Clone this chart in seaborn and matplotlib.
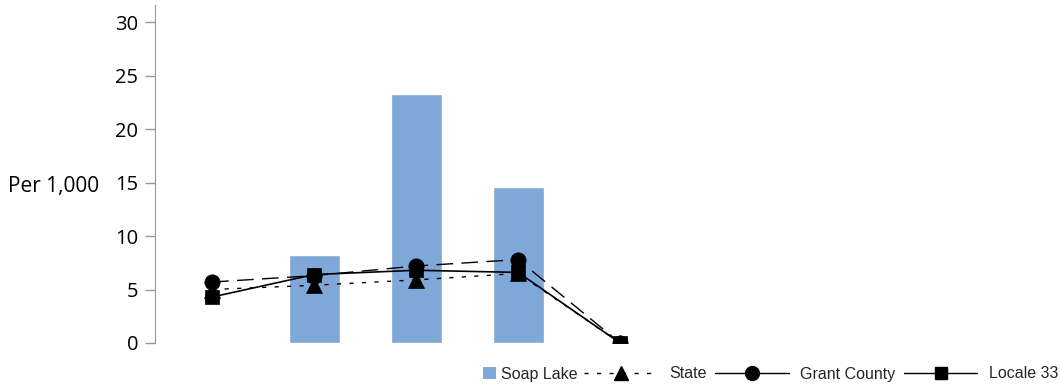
import matplotlib
matplotlib.use("Agg")
import matplotlib.pyplot as plt
import seaborn as sns
import numpy as np
import pandas as pd
from matplotlib.lines import Line2D
from matplotlib.patches import Patch

categories = ["1", "2", "3", "4", "5"]
soap_lake = [np.nan, 8.2, 23.3, 14.6, np.nan]
state = [5.0, 5.4, 5.9, 6.5, 0.0]
grant_county = [5.7, 6.3, 7.2, 7.8, 0.0]
locale_33 = [4.3, 6.4, 6.8, 6.6, 0.0]

BAR = "#7FA7D7"

sns.set_style("white")
plt.rcParams['font.family'] = ['Open Sans', 'DejaVu Sans']

fig = plt.figure(figsize=(10.6, 3.86), dpi=100)
ax = fig.add_axes([155/1060, 43/386, (1050-155)/1060, (343-5)/386])

df = pd.DataFrame({"cat": categories, "val": soap_lake})
sns.barplot(data=df, x="cat", y="val", order=categories, color=BAR,
            saturation=1, width=0.5, ax=ax)

idx = np.arange(len(categories))
mk = dict(markeredgecolor="black", markerfacecolor="black", markeredgewidth=0.5)
sns.lineplot(x=idx, y=state, ax=ax, color="black", lw=1.0, marker="^",
             markersize=11, linestyle=(0, (3, 6)), zorder=4, **mk)
sns.lineplot(x=idx, y=grant_county, ax=ax, color="black", lw=1.0, marker="o",
             markersize=11, linestyle=(0, (12, 6)), zorder=5, **mk)
sns.lineplot(x=idx, y=locale_33, ax=ax, color="black", lw=1.2, marker="s",
             markersize=10, linestyle="-", zorder=6, **mk)

ax.set_xlim(-0.56, -0.56 + (1050-155)/102)
ax.set_ylim(0, 31.6)
ax.set_yticks([0, 5, 10, 15, 20, 25, 30])
ax.set_xticks([])
ax.set_xlabel("")
ax.set_ylabel("")
fig.text(8/1060, 1 - 187/386, "Per 1,000", fontsize=15, color="black",
         ha="left", va="center")
ax.tick_params(axis="y", labelsize=14.5, labelcolor="black", length=7, width=1,
               color="#999999", direction="out", left=True, pad=5)
for s in ["top", "right", "bottom"]:
    ax.spines[s].set_visible(False)
ax.spines["left"].set_color("#999999")

prop = {"family": "Liberation Sans", "size": 11.5}
leg_y = 1 - 374/386

leg1 = fig.legend([Patch(facecolor=BAR, edgecolor="none")], ["Soap Lake"],
                  loc="center right", bbox_to_anchor=(578/1060, leg_y),
                  frameon=False, handlelength=0.8, handleheight=0.8,
                  handletextpad=0.35, borderaxespad=0, borderpad=0, prop=prop)

handles = [
    Line2D([], [], color="black", lw=1, linestyle=(0, (3, 6)), marker="^", markersize=10),
    Line2D([], [], color="black", lw=1, linestyle="-", marker="o", markersize=10),
    Line2D([], [], color="black", lw=1, linestyle="-", marker="s", markersize=9),
]
labels = ["State", "Grant County", "Locale 33"]
leg2 = fig.legend(handles, labels, loc="center right", bbox_to_anchor=(1058/1060, leg_y),
                  ncol=3, frameon=False, handlelength=4.6, columnspacing=0.55,
                  handletextpad=0.7, borderaxespad=0, borderpad=0, prop=prop)

fig.savefig("out.png", dpi=100)
